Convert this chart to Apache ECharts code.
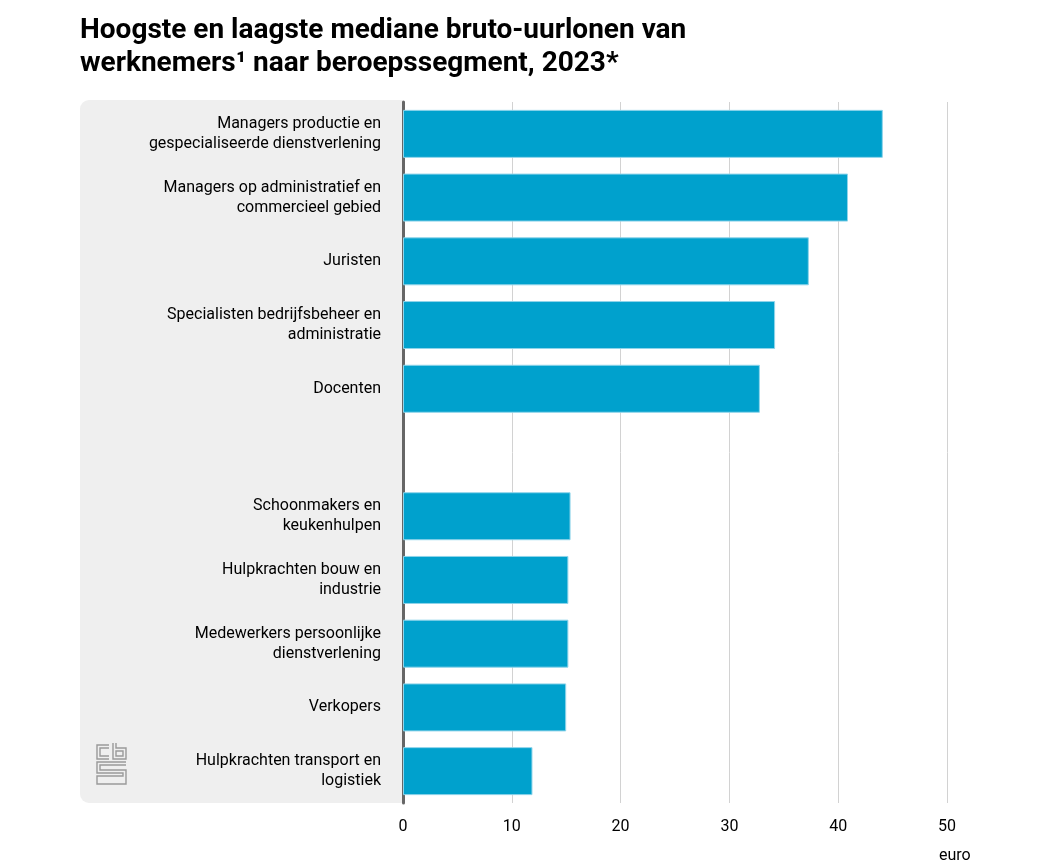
<!DOCTYPE html>
<html>
<head>
<meta charset="utf-8">
<script src="https://cdn.jsdelivr.net/npm/echarts@6/dist/echarts.min.js"></script>
<style>
html,body{margin:0;padding:0;background:#fff;}
#chart{width:1057px;height:864px;}
</style>
</head>
<body>
<div id="chart"></div>
<script>
const categories = [
  'Managers productie en\ngespecialiseerde dienstverlening',
  'Managers op administratief en\ncommercieel gebied',
  'Juristen',
  'Specialisten bedrijfsbeheer en\nadministratie',
  'Docenten',
  '',
  'Schoonmakers en\nkeukenhulpen',
  'Hulpkrachten bouw en\nindustrie',
  'Medewerkers persoonlijke\ndienstverlening',
  'Verkopers',
  'Hulpkrachten transport en\nlogistiek'
];
const values = [44.1, 40.9, 37.3, 34.2, 32.8, null, 15.4, 15.2, 15.2, 15.0, 11.9];
const xTicks = [0, 10, 20, 30, 40, 50];
const titleText = 'Hoogste en laagste mediane bruto-uurlonen van\nwerknemers\u00B9 naar beroepssegment, 2023*';
const unitText = 'euro';

const chart = echarts.init(document.getElementById('chart'), null, {renderer: 'canvas'});
const FONT = 'Roboto';
const logoStroke = {stroke: '#9a9a9a', lineWidth: 1.4, fill: null};
chart.setOption({
  animation: false,
  backgroundColor: '#ffffff',
  title: {
    text: titleText,
    left: 80, top: 14, padding: 0,
    textStyle: {fontFamily: FONT, fontSize: 28, fontWeight: 'bold', color: '#000', lineHeight: 33}
  },
  grid: {left: 403, right: 110, top: 102, bottom: 61, containLabel: false},
  graphic: [
    {type: 'rect', z: -10, silent: true, shape: {x: 80, y: 100, width: 323, height: 703, r: [9, 0, 0, 9]}, style: {fill: '#efefef'}},
    {type: 'text', left: 939, top: 848, style: {text: unitText, font: '16px ' + FONT, fill: '#000'}},
    {type: 'group', x: 97, y: 743, children: [
      {type: 'polyline', shape: {points: [[12,2],[0,2],[0,16],[12,16]]}, style: logoStroke},
      {type: 'polyline', shape: {points: [[12,5],[3,5],[3,13],[12,13]]}, style: logoStroke},
      {type: 'polyline', shape: {points: [[16,0],[16,16],[29,16],[29,5],[19,5],[19,0]]}, style: logoStroke},
      {type: 'rect', shape: {x: 19, y: 8, width: 7, height: 5}, style: logoStroke},
      {type: 'polyline', shape: {points: [[29,19],[0,19],[0,30],[26,30],[26,33],[0,33],[0,41],[29,41],[29,27],[3,27],[3,22],[29,22]]}, style: logoStroke}
    ]}
  ],
  xAxis: {
    type: 'value', min: 0, max: 50, interval: 10,
    axisLine: {show: false}, axisTick: {show: false},
    splitLine: {show: true, lineStyle: {color: '#d2d2d2', width: 1}},
    axisLabel: {fontFamily: FONT, fontSize: 16, color: '#000', margin: 16,
      formatter: v => xTicks.includes(v) ? String(v) : ''}
  },
  yAxis: {
    type: 'category', data: categories, inverse: true,
    axisLine: {show: true, lineStyle: {color: '#666666', width: 3}},
    axisTick: {show: false},
    splitLine: {show: false},
    axisLabel: {fontFamily: FONT, fontSize: 16, color: '#000', margin: 22, lineHeight: 20, align: 'right', padding: [5, 0, 0, 0]}
  },
  series: [{
    type: 'bar', data: values, barWidth: 48,
    itemStyle: {color: '#00a1cd', borderColor: '#8fd4ea', borderWidth: 1},
    z: 3
  }]
});
</script>
</body>
</html>
